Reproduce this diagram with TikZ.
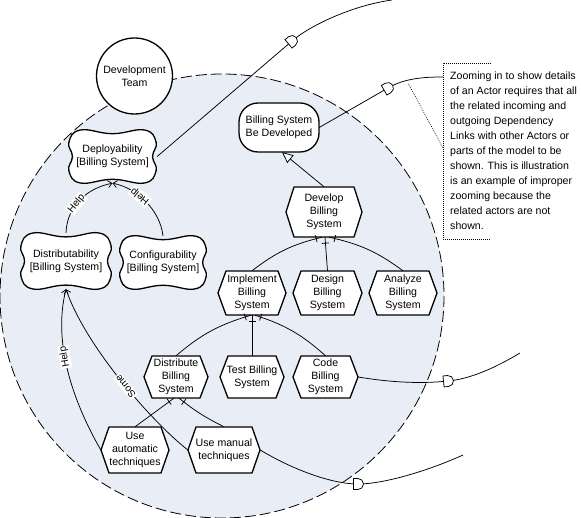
\documentclass[tikz,border=0pt]{standalone}
\usepackage{fontspec}
\setmainfont{Liberation Sans}
\usetikzlibrary{arrows.meta,calc,decorations.markings}
\definecolor{actorfill}{RGB}{232,237,246}

\tikzset{
  shapeline/.style={line width=1.3pt, draw=black, fill=white, line join=round},
  lbl/.style={font=\fontsize{10.6}{13}\selectfont, align=center, inner sep=0pt},
  conn/.style={line width=0.75pt, draw=black},
  contrib/.style={conn, -{Straight Barb[length=4pt,width=7pt]}},
  meansend/.style={conn, -{Triangle[length=11pt,width=10pt,fill=white]}},
  decomp/.style={conn, postaction={decorate},
    decoration={markings, mark=at position -6pt with {\draw[line width=0.75pt] (0pt,-3.5pt) -- (0pt,3.5pt);}}},
  linklabel/.style={fill=white, inner sep=1pt, font=\fontsize{10}{12}\selectfont, sloped, allow upside down},
  dep/.pic={\draw[line width=0.75pt, fill=white] (-4.5pt,-5.5pt) -- (0pt,-5.5pt) arc[start angle=-90, end angle=90, radius=5.5pt] -- (-4.5pt,5.5pt) -- cycle;},
  notedot/.style={line width=0.6pt, dash pattern=on 0.8pt off 1.2pt},
  boundary/.style={line width=0.8pt, dash pattern=on 11pt off 4pt, fill=actorfill},
}

% name, cx, cy, width, height, text
\newcommand\taskhex[6]{%
  \draw[shapeline] (#2-#4/2,#3) -- (#2-#4/2+8,#3-#5/2) -- (#2+#4/2-8,#3-#5/2) -- (#2+#4/2,#3) -- (#2+#4/2-8,#3+#5/2) -- (#2-#4/2+8,#3+#5/2) -- cycle;
  \node[lbl, minimum width=#4pt, minimum height=#5pt] (#1) at (#2,#3) {#6};}

\newcommand\softgoal[6]{%
  \draw[shapeline] plot[smooth cycle, tension=0.75] coordinates {
    (#2-0.36*#4,#3-0.5*#5) (#2,#3-0.43*#5) (#2+0.36*#4,#3-0.5*#5)
    (#2+0.49*#4,#3-0.27*#5) (#2+0.45*#4,#3) (#2+0.49*#4,#3+0.27*#5)
    (#2+0.36*#4,#3+0.5*#5) (#2,#3+0.43*#5) (#2-0.36*#4,#3+0.5*#5)
    (#2-0.49*#4,#3+0.27*#5) (#2-0.45*#4,#3) (#2-0.49*#4,#3-0.27*#5)};
  \node[lbl, minimum width=#4pt, minimum height=#5pt] (#1) at (#2,#3) {#6};}

\begin{document}
\begin{tikzpicture}[x=1pt, y=-1pt]
\useasboundingbox (0,0) rectangle (581,518);

% actor boundary
\draw[boundary] (222,296) circle (222);

% actor
\node[circle, shapeline, lbl, minimum size=76pt] (team) at (134.5,76) {Development\\Team};

% softgoals
\softgoal{deploy}{112.5}{156.5}{89}{53}{Deployability\\{[Billing System]}}
\softgoal{distrib}{66}{261}{92}{56}{Distributability\\{[Billing System]}}
\softgoal{config}{163}{262.5}{88}{53}{Configurability\\{[Billing System]}}

% goal
\draw[shapeline, rounded corners=19pt] (239,103) rectangle (319,152);
\node[lbl, minimum width=80pt, minimum height=49pt] (goal) at (279,127.5) {Billing System\\Be Developed};

% tasks
\taskhex{develop}{324}{212}{76}{50}{Develop\\Billing\\System}
\taskhex{implement}{252}{293}{68}{44}{Implement\\Billing\\System}
\taskhex{design}{327.5}{293}{69}{44}{Design\\Billing\\System}
\taskhex{analyze}{403}{293}{68}{44}{Analyze\\Billing\\System}
\taskhex{distribute}{176}{377}{64}{42}{Distribute\\Billing\\System}
\taskhex{test}{252}{377}{64}{42}{Test Billing\\System}
\taskhex{code}{325.5}{377}{65}{42}{Code\\Billing\\System}
\taskhex{auto}{135}{450}{68}{46}{Use\\automatic\\techniques}
\taskhex{manual}{224}{450}{72}{46}{Use manual\\techniques}

% means-end
\draw[meansend] (develop.north) -- ($(goal.south)+(3,0)$);

% decompositions
\draw[decomp] (implement.north) to[bend left=12] ($(develop.south)+(-2,0)$);
\draw[decomp] (design.north) -- ($(develop.south)+(1,0)$);
\draw[decomp] (analyze.north) to[bend right=12] ($(develop.south)+(5,0)$);
\draw[decomp] (distribute.north) to[bend left=12] ($(implement.south)+(-1,0)$);
\draw[decomp] (test.north) -- (implement.south);
\draw[decomp] (code.north) to[bend right=12] ($(implement.south)+(3,0)$);
\draw[decomp] (auto.north) -- ($(distribute.south)+(-2,0)$);
\draw[decomp] (manual.north) to[bend left=6] ($(distribute.south)+(3,0)$);

% contributions
\draw[contrib] (distrib.north) .. controls (67,205) and (88,188) .. (deploy.south) node[linklabel, pos=0.42] {Help};
\draw[contrib] (config.north) .. controls (160,210) and (137,188) .. (deploy.south) node[linklabel, pos=0.6] {Help};
\draw[contrib] (auto.west) .. controls (75,405) and (52,345) .. (distrib.south) node[linklabel, pos=0.6] {Help};
\draw[contrib] (manual.west) .. controls (150,420) and (85,345) .. (distrib.south) node[linklabel, pos=0.46] {Some};

% dependencies
\coordinate (d1) at (292,41);  \coordinate (e1) at (392,0);
\coordinate (d2) at (388,88);  \coordinate (e2) at (443,77);
\coordinate (d3) at (448,381); \coordinate (e3) at (520,353);
\coordinate (d4) at (358,484); \coordinate (e4) at (463,455);
\draw[conn] (deploy.east) -- (d1) .. controls (312,24) and (355,5) .. (e1);
\draw[conn] (goal.east) -- (d2) .. controls (405,78) and (425,77) .. (e2);
\draw[conn] (code.east) .. controls (400,384) and (430,383) .. (d3) .. controls (470,379) and (495,368) .. (e3);
\draw[conn] (manual.east) .. controls (290,468) and (330,484) .. (d4) .. controls (385,484) and (430,470) .. (e4);
\pic[rotate=40] at (d1) {dep};
\pic[rotate=30] at (d2) {dep};
\pic[rotate=6] at (d3) {dep};
\pic[rotate=0] at (d4) {dep};

% note
\coordinate (ntl) at (443,63);
\coordinate (nbl) at (443,239);
\coordinate (nml) at (443,148);
\coordinate (nlink) at (408,83);
\draw[notedot] (491,63) -- (ntl) -- (nbl) -- (490,239);
\draw[notedot] (nml) -- (nlink);
\node[anchor=north west, inner sep=0pt, align=left, font=\fontsize{10.6}{15}\selectfont] (note) at (450,71.5)
 {Zooming in to show details\\of an Actor requires that all\\the related incoming and\\outgoing Dependency\\Links with other Actors or\\parts of the model to be\\shown. This is illustration\\is an example of improper\\zooming because the\\related actors are not\\shown.};
\end{tikzpicture}
\end{document}
